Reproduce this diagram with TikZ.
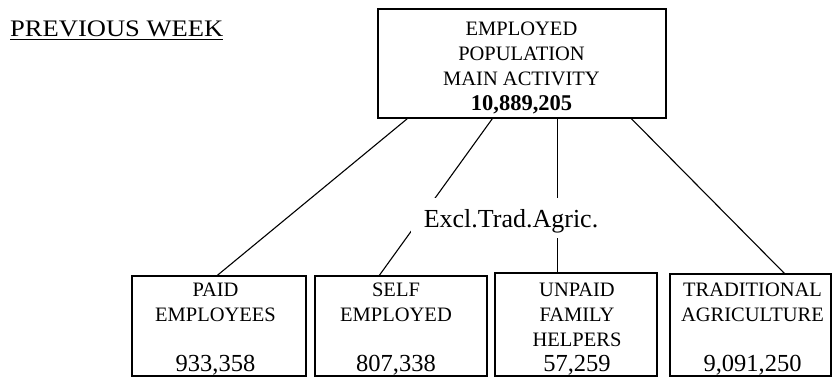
\documentclass[tikz,border=0pt]{standalone}
\usepackage{fontspec}
\usepackage{graphicx}
\setmainfont{Liberation Serif}
\newcommand{\numsz}{\fontsize{24.5}{25}\selectfont}
\begin{document}
\begin{tikzpicture}[x=1pt,y=-1pt,
  box/.style={draw, line width=1.3pt, inner sep=0pt},
  conn/.style={line width=1.1pt},
  txt/.style={inner sep=0pt, align=center, anchor=north, font=\fontsize{20.5}{25}\selectfont}]
\useasboundingbox (0,0) rectangle (832,377);
\fill[white] (0,0) rectangle (832,377);

% heading
\node[inner sep=0pt, anchor=base west, font=\fontsize{23.7}{28}\selectfont] (pw) at (10,37) {\scalebox{1.12}[1]{PREVIOUS WEEK}};
\draw[line width=1.5pt] ([yshift=-2.3pt]pw.base west) -- ([yshift=-2.3pt]pw.base east);

% boxes
\node[box, minimum width=288pt, minimum height=109pt] (top) at (522,63.5) {};
\node[box, minimum width=174pt, minimum height=100pt] (b1) at (219,326) {};
\node[box, minimum width=172pt, minimum height=100pt] (b2) at (401,326) {};
\node[box, minimum width=162pt, minimum height=103pt] (b3) at (576,324.5) {};
\node[box, minimum width=161pt, minimum height=102pt] (b4) at (750.5,325) {};

% texts
\node[txt] (ttop) at (521.5,21.4) {EMPLOYED\\POPULATION\\MAIN ACTIVITY\\{\fontsize{22.5}{25}\selectfont\bfseries 10,889,205}};
\node[txt] (t1) at (215.5,282.4) {PAID\\EMPLOYEES\\[25pt]{\numsz 933,358}};
\node[txt] (t2) at (396,282.4) {SELF\\EMPLOYED\\[25pt]{\numsz 807,338}};
\node[txt] (t3) at (577,283) {UNPAID\\FAMILY\\HELPERS\\{\numsz 57,259}};
\node[txt] (t4) at (752.5,282.4) {TRADITIONAL\\AGRICULTURE\\[25pt]{\numsz 9,091,250}};

% connectors
\draw[conn] ([xshift=30pt]top.south west) -- ([xshift=86pt]b1.north west);
\draw[conn] ([xshift=115pt]top.south west) -- ([xshift=65pt]b2.north west);
\draw[conn] ([xshift=180pt]top.south west) -- ([xshift=63pt]b3.north west);
\draw[conn] ([xshift=254pt]top.south west) -- ([xshift=115pt]b4.north west);

% label over connectors
\node[fill=white, inner xsep=13pt, inner ysep=5pt, text height=24pt, text depth=6pt, anchor=base, font=\fontsize{26}{30}\selectfont] (lab) at (511,227) {Excl.Trad.Agric.};
\end{tikzpicture}
\end{document}
